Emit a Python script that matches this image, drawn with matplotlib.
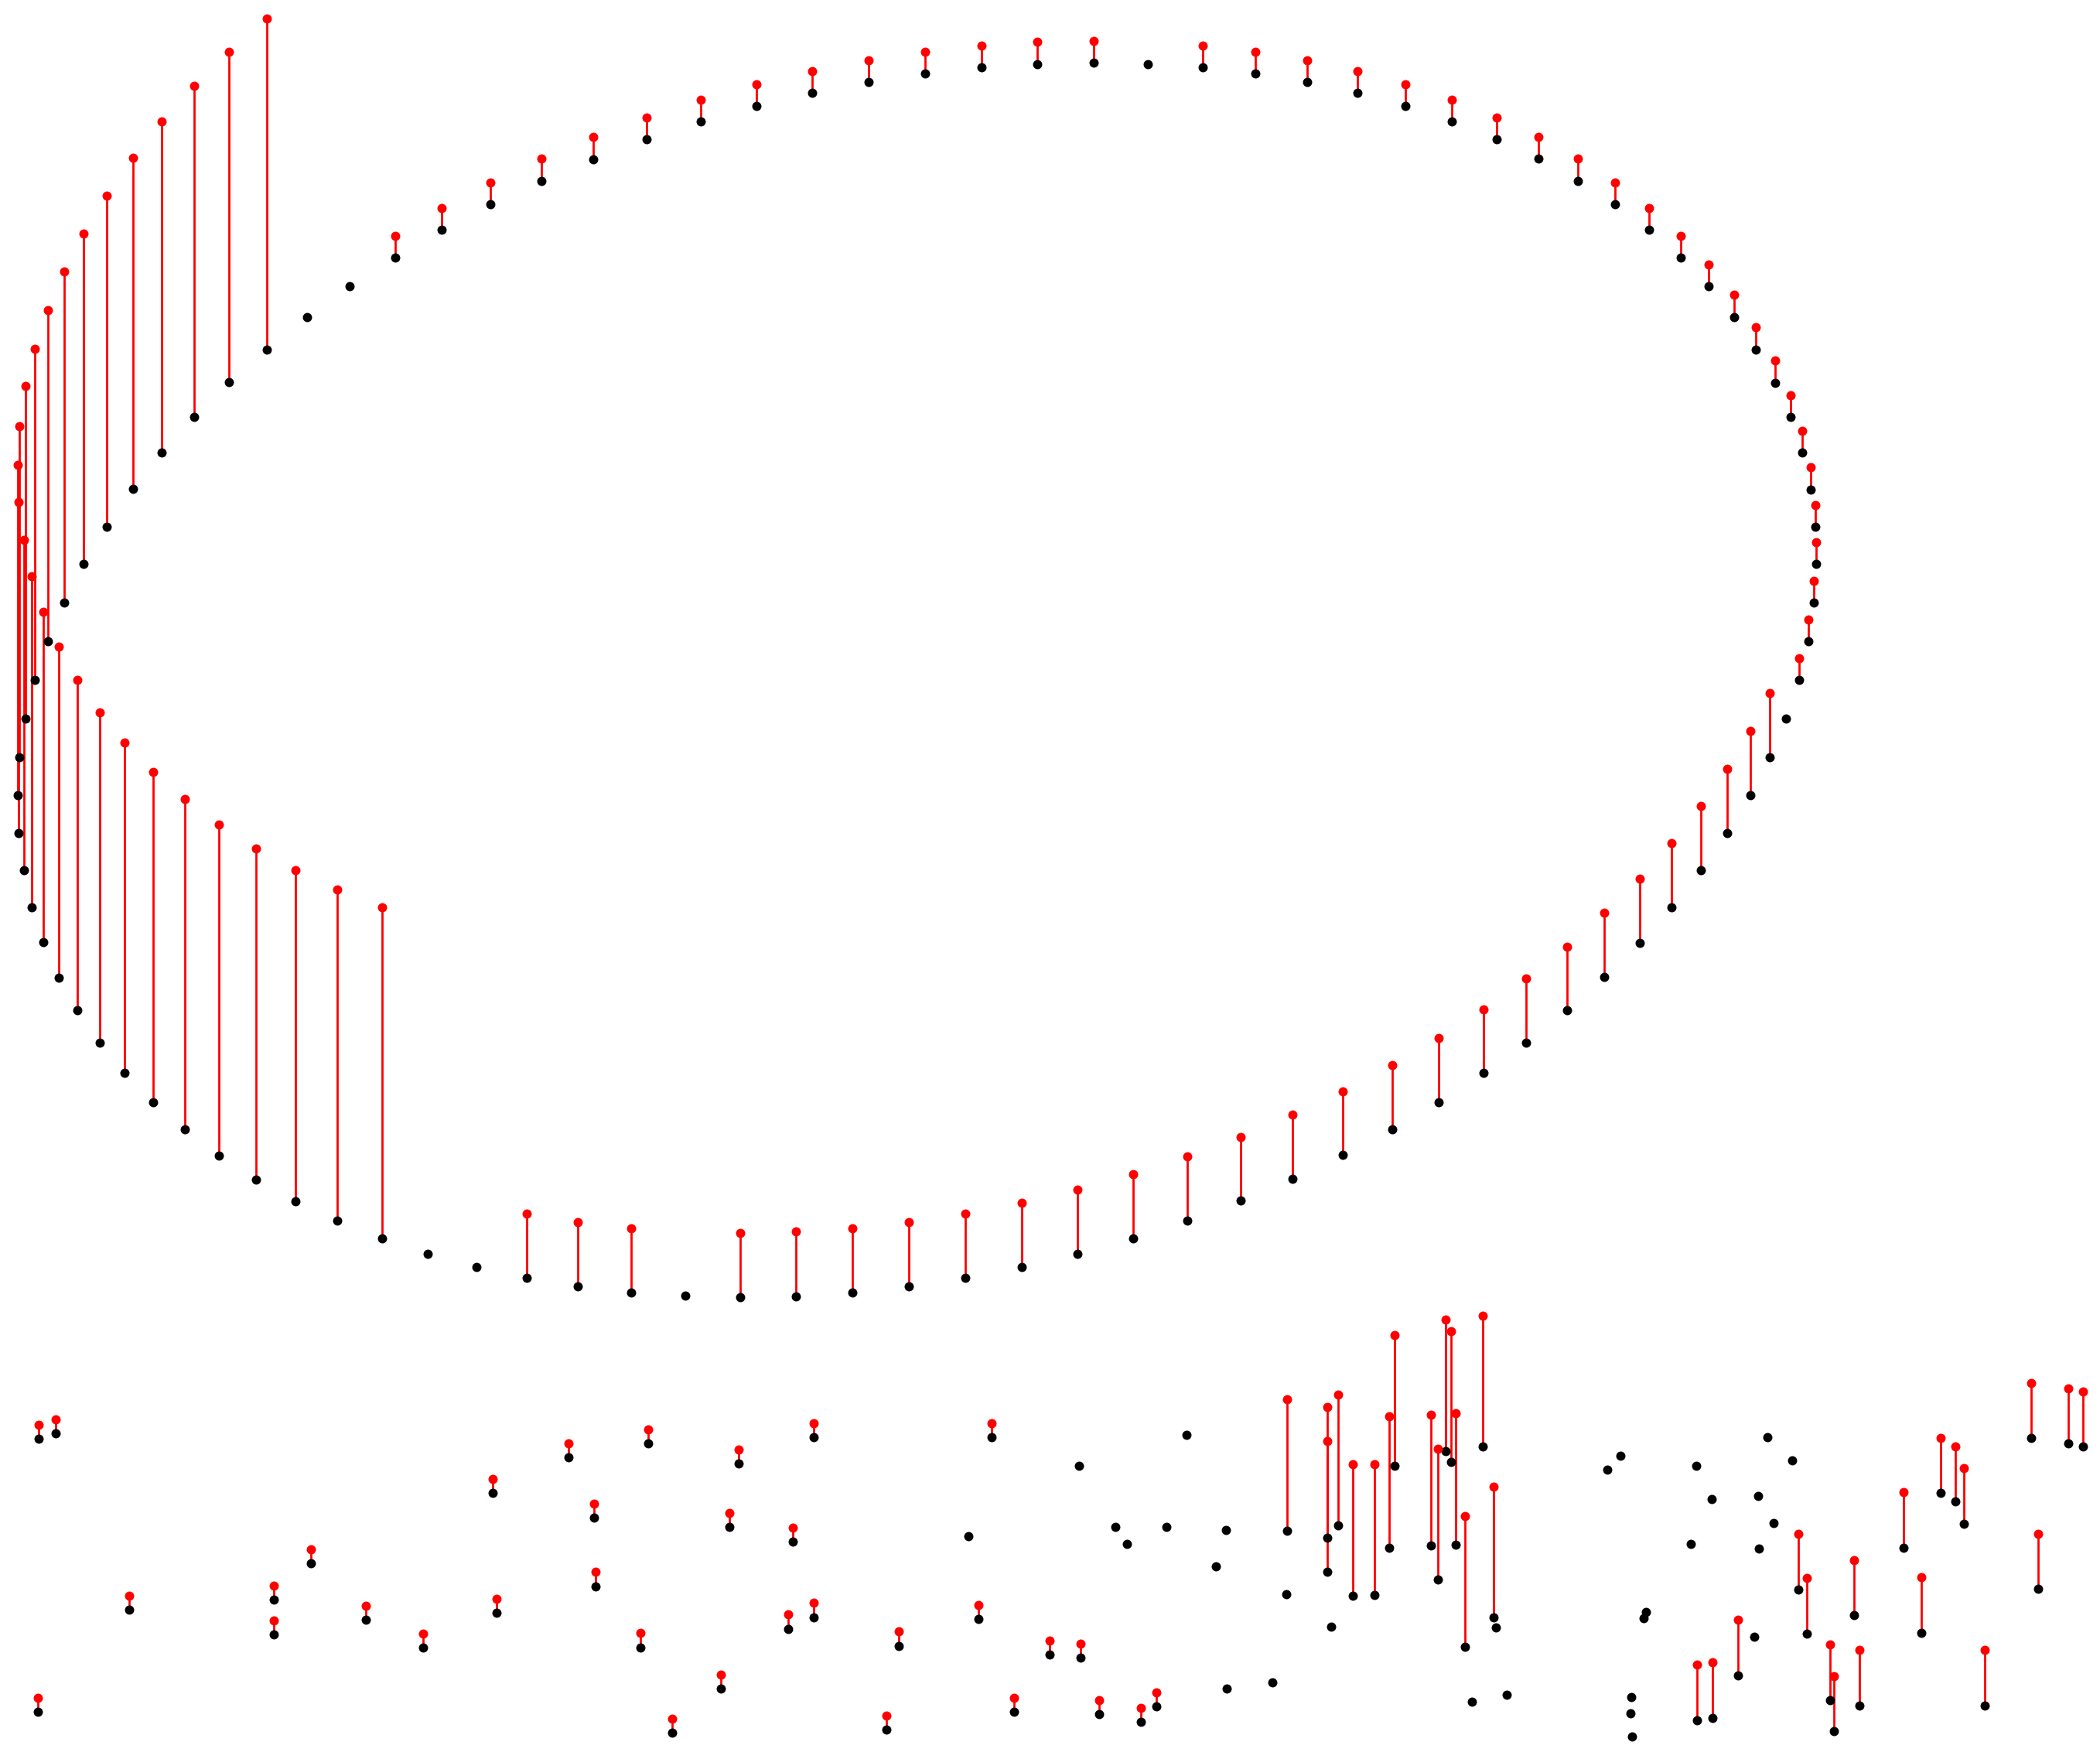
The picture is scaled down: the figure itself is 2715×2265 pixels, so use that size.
import numpy as np
import matplotlib
matplotlib.use("Agg")
import matplotlib.pyplot as plt

# ---------------- data (units: canvas coordinates, y grows downward) ----------------
# Ring of points: x, black value, red value (None = no red counterpart)
ring_x = [199.1, 171.0, 145.0, 120.9, 99.2, 79.6, 62.3, 47.7, 35.7, 26.0, 19.0, 14.6, 13.1,
          13.9, 17.7, 23.9, 32.5, 44.1, 57.9, 74.5, 93.2, 114.3, 137.8, 163.4, 191.0, 220.4,
          252.0, 285.1, 319.4, 355.9, 393.1, 431.7, 471.1, 511.6, 552.9, 594.5, 636.5, 678.5,
          720.8, 762.8, 804.4, 845.8, 886.6, 926.3, 965.0, 1002.7, 1039.3, 1074.3, 1107.8,
          1139.7, 1169.8, 1197.9, 1224.3, 1248.3, 1270.2, 1289.7, 1306.8, 1321.2, 1333.5,
          1343.4, 1350.1, 1354.5, 1356.3, 1355.3, 1351.8, 1345.7, 1336.8, 1325.2, 1311.2,
          1295.0, 1276.0, 1255.0, 1231.4, 1206.0, 1178.0, 1148.6, 1117.3, 1084.1, 1049.5,
          1013.4, 975.8, 937.5, 897.8, 857.2, 816.4, 774.7, 732.7, 690.7, 648.4, 606.4, 564.8,
          523.5, 482.6, 442.9, 404.2, 366.2, 329.8, 294.9, 261.2, 229.3]
ring_black = [260.8, 285.5, 311.2, 337.9, 365.1, 393.0, 421.1, 449.6, 478.7, 507.4, 536.5,
              565.3, 593.8, 622.2, 649.8, 677.3, 703.6, 729.7, 754.4, 778.6, 801.2, 823.0,
              843.4, 862.5, 880.4, 896.6, 911.4, 924.7, 936.0, 945.8, 953.9, 960.2, 964.9,
              967.4, 968.3, 967.6, 964.9, 960.2, 953.9, 945.8, 936.0, 924.4, 911.3, 896.5,
              880.3, 862.4, 843.3, 823.0, 801.1, 778.2, 754.4, 729.4, 703.7, 677.1, 649.9,
              622.0, 593.6, 565.1, 536.3, 507.7, 478.8, 449.9, 421.2, 393.2, 365.3, 338.1,
              311.5, 285.7, 260.8, 236.8, 213.9, 192.1, 171.6, 152.7, 134.9, 118.6, 103.8,
              90.8, 79.2, 69.5, 61.3, 54.9, 50.3, 47.7, 46.8, 47.7, 50.1, 54.9, 61.3, 69.3,
              79.2, 90.8, 103.8, 118.8, 134.9, 152.7, 171.6, 192.1, 213.8, 236.8]
ring_red = [13.7, 38.7, 64.3, 90.9, 118.0, 145.9, 174.2, 202.7, 231.6, 260.5, 288.2, 318.4,
            346.9, 375.0, 402.9, 430.1, 456.7, 482.7, 507.4, 531.6, 554.2, 576.1, 596.5,
            615.6, 633.5, 649.7, 664.3, 677.5, None, None, 906.1, 912.5, 916.9, None, 920.4,
            919.6, 916.9, 912.5, 906.1, 898.1, 888.4, 876.5, 863.4, 848.7, 832.4, 814.9,
            795.4, 775.1, 753.5, 730.7, 706.6, 681.5, 655.8, 629.2, 602.0, 574.2, 546.0,
            517.5, None, 491.4, 462.5, 433.6, 405.1, 376.9, 349.0, 321.8, 295.2, 269.3,
            244.5, 220.3, 197.6, 176.0, 155.3, 136.4, 118.6, 102.3, 87.7, 74.3, 62.7, 53.0,
            44.8, 38.6, 34.0, None, 30.5, 31.4, 34.0, 38.6, 45.0, 53.0, 62.7, 74.3, 87.7,
            102.3, 118.6, 136.4, 155.1, 175.9, None, None]

# Scattered cloud of points below the ring
cloud_x = [29.1, 41.8, 367.9, 232.3, 96.7, 204.2, 204.7, 273.3, 315.8, 370.7, 28.4,
           424.4, 483.7, 551.5, 607.4, 740.5, 443.7, 544.8, 592.2, 723.0, 444.5, 607.4,
           588.6, 730.4, 478.3, 670.9, 784.0, 538.4, 501.7, 661.6, 757.2,
           805.5, 885.7, 832.8, 841.6, 870.7, 915.6, 908.1, 960.4, 993.7, 915.9, 950.1,
           806.8, 820.7, 851.9, 863.5, 960.9, 990.9, 990.9, 999.1, 1010.0, 1026.4, 1037.0,
           1041.1, 1068.7, 1073.4, 1079.5, 1083.4, 1086.8, 1106.9, 1093.7, 1115.4, 1116.9,
           1099.2, 1124.9,
           1199.9, 1210.1, 1266.7, 1319.4, 1337.9, 1278.2, 1313.0, 1324.0, 1262.3, 1313.3,
           1228.8, 1227.3, 1309.7, 1218.1, 1217.5, 1218.8, 1266.9, 1278.7, 1297.7, 1342.7,
           1348.9, 1384.5, 1366.3, 1369.6, 1388.6, 1421.3, 1434.4, 1449.2, 1460.0, 1466.6,
           1481.7, 1516.8, 1521.9, 1544.5, 1555.5]
cloud_black = [1074.3, 1070.2, 1114.6, 1167.2, 1201.9, 1194.3, 1220.4, 1209.2, 1230.3, 1204.0,
               1277.9,
               1087.9, 1077.7, 1092.6, 1073.0, 1073.0, 1133.1, 1140.0, 1151.2, 1146.7, 1184.2,
               1207.3, 1215.9, 1208.8, 1229.9, 1228.8, 1235.5, 1260.7, 1293.7, 1291.3, 1277.9,
               1094.3, 1071.1, 1140.0, 1152.9, 1140.0, 1142.2, 1169.5, 1190.4, 1214.6, 1260.7,
               1256.0, 1237.4, 1279.9, 1285.7, 1274.1, 1142.6, 1148.2, 1173.4, 1138.9, 1191.1,
               1190.7, 1155.3, 1094.5, 1153.8, 1179.2, 1083.1, 1091.7, 1153.2, 1080.1, 1229.4,
               1207.7, 1215.2, 1270.4, 1265.0,
               1097.3, 1086.8, 1094.3, 1072.8, 1090.0, 1119.1, 1117.0, 1137.2, 1152.7, 1156.4,
               1203.4, 1208.3, 1221.9, 1267.2, 1279.4, 1296.3, 1284.4, 1282.7, 1250.6, 1186.8,
               1219.5, 1206.0, 1269.3, 1292.6, 1273.4, 1155.5, 1219.1, 1114.8, 1121.0, 1137.6,
               1273.2, 1073.4, 1186.4, 1077.7, 1080.1]
cloud_red = [1063.7, 1059.6, 1104.0, 1156.6, 1191.3, 1183.8, 1209.8, 1198.6, 1219.7, 1193.5,
             1267.4,
             1077.3, 1067.2, 1082.0, 1062.4, 1062.4, 1122.6, 1129.5, 1140.7, None, 1173.6,
             1196.7, 1205.3, 1198.2, 1219.3, 1218.2, 1224.9, 1250.1, 1283.1, 1280.7, 1267.4,
             None, None, None, None, None, None, None, None, None, None,
             None, 1226.9, 1269.3, 1275.1, 1263.5, 1044.8, 1050.2, 1075.6, 1041.1, 1093.3,
             1093.0, 1057.5, 996.9, 1056.0, 1081.4, 985.3, 993.7, 1055.3, 982.1, 1131.6,
             1109.8, None, None, None,
             None, None, None, None, None, None, None, None, None, None,
             None, None, None, None, None, None, 1243.0, 1241.3, 1209.2, 1145.4,
             1178.2, 1164.6, 1228.0, 1251.2, 1232.0, 1114.2, 1177.7, 1073.4, 1079.7, 1096.3,
             1231.8, 1032.3, 1145.0, 1036.4, 1038.7]

# ---------------- drawing ----------------
def arr(v):
    return np.array([np.nan if a is None else a for a in v], dtype=float)

x = np.concatenate([arr(ring_x), arr(cloud_x)])
yb = np.concatenate([arr(ring_black), arr(cloud_black)])
yr = np.concatenate([arr(ring_red), arr(cloud_red)])
has_red = ~np.isnan(yr)

W, H = 2715, 2265
DPI = 100
fig = plt.figure(figsize=(W / DPI, H / DPI), dpi=DPI)
ax = fig.add_axes([0, 0, 1, 1])
ax.set_xlim(0, 1568)
ax.set_ylim(1308, 0)
ax.axis("off")

ax.vlines(x[has_red], yb[has_red], yr[has_red], colors="#ff0000", linewidth=2.0, zorder=1)
ax.plot(x, yb, linestyle="none", marker="o", markersize=8.6, markeredgewidth=0,
        color="#000000", zorder=2)
ax.plot(x[has_red], yr[has_red], linestyle="none", marker="o", markersize=8.6,
        markeredgewidth=0, color="#ff0000", zorder=3)

fig.savefig("out.png", dpi=DPI, facecolor="white")
